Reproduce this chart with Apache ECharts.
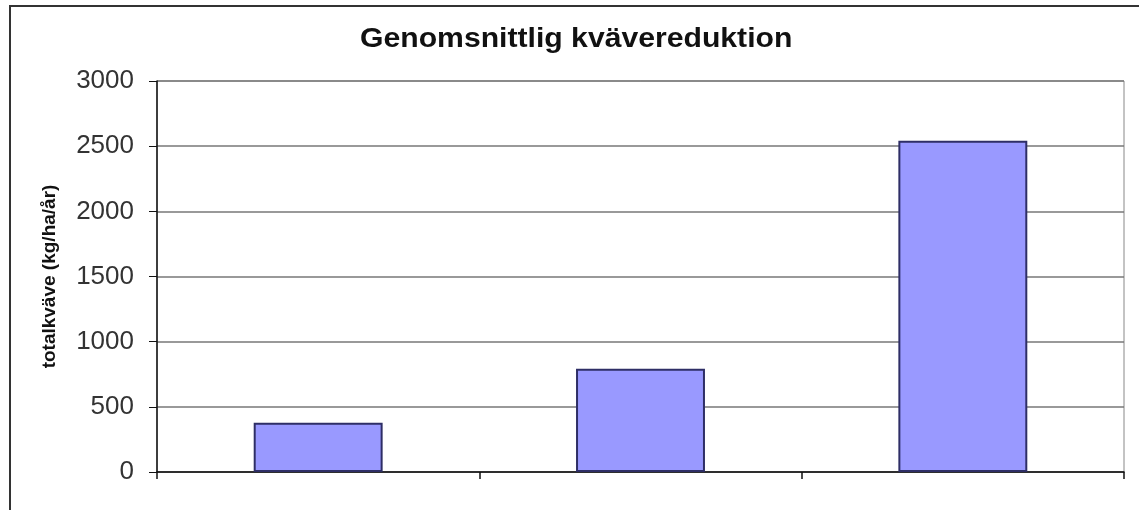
<!DOCTYPE html>
<html>
<head>
<meta charset="utf-8">
<script src="https://cdn.jsdelivr.net/npm/echarts@6/dist/echarts.min.js"></script>
<style>
html,body{margin:0;padding:0;background:#fff;}
#main{width:1139px;height:510px;}
</style>
</head>
<body>
<div id="main"></div>
<script>
const titleText = 'Genomsnittlig kvävereduktion';
const yAxisName = 'totalkväve (kg/ha/år)';
const categories = ['', '', ''];
const values = [378, 792, 2542];
const yTicks = [0, 500, 1000, 1500, 2000, 2500, 3000];

const chart = echarts.init(document.getElementById('main'));
chart.setOption({
  animation: false,
  backgroundColor: '#fff',
  textStyle: { fontFamily: 'Liberation Sans, Arial, sans-serif' },
  graphic: [{
    type: 'rect',
    shape: { x: 10, y: 6, width: 1160, height: 540 },
    style: { fill: 'none', stroke: '#333', lineWidth: 2 },
    silent: true, z: -1
  }, {
    type: 'text',
    x: 360, y: 26,
    scaleX: 1.117,
    originX: 0, originY: 0,
    style: {
      text: titleText,
      font: 'bold 27px "Liberation Sans", Arial, sans-serif',
      fill: '#111',
      textAlign: 'left',
      textVerticalAlign: 'top'
    },
    silent: true
  }],
  grid: {
    left: 157, right: 15, top: 81, bottom: 38,
    show: true, borderColor: '#888', borderWidth: 1, backgroundColor: '#fff'
  },
  xAxis: {
    type: 'category',
    data: categories,
    boundaryGap: true,
    axisLine: { lineStyle: { color: '#111', width: 1.5 } },
    axisTick: { show: true, length: 7, lineStyle: { color: '#111', width: 1.5 } },
    axisLabel: { show: false }
  },
  yAxis: {
    type: 'value',
    min: yTicks[0], max: yTicks[yTicks.length - 1], interval: 500,
    name: yAxisName,
    nameLocation: 'middle',
    nameGap: 98,
    nameTextStyle: { fontSize: 19, fontWeight: 'bold', color: '#111' },
    axisLine: { show: true, lineStyle: { color: '#111', width: 1.5 } },
    axisTick: { show: true, length: 8, lineStyle: { color: '#111' } },
    axisLabel: { fontSize: 26, color: '#333', margin: 23, formatter: function (v) { return String(v); } },
    splitLine: { lineStyle: { color: '#777', width: 1.5 } }
  },
  series: [{
    type: 'bar',
    data: values,
    barWidth: '40%',
    itemStyle: { color: '#9999ff', borderColor: '#2e2e66', borderWidth: 2 }
  }]
});
</script>
</body>
</html>
